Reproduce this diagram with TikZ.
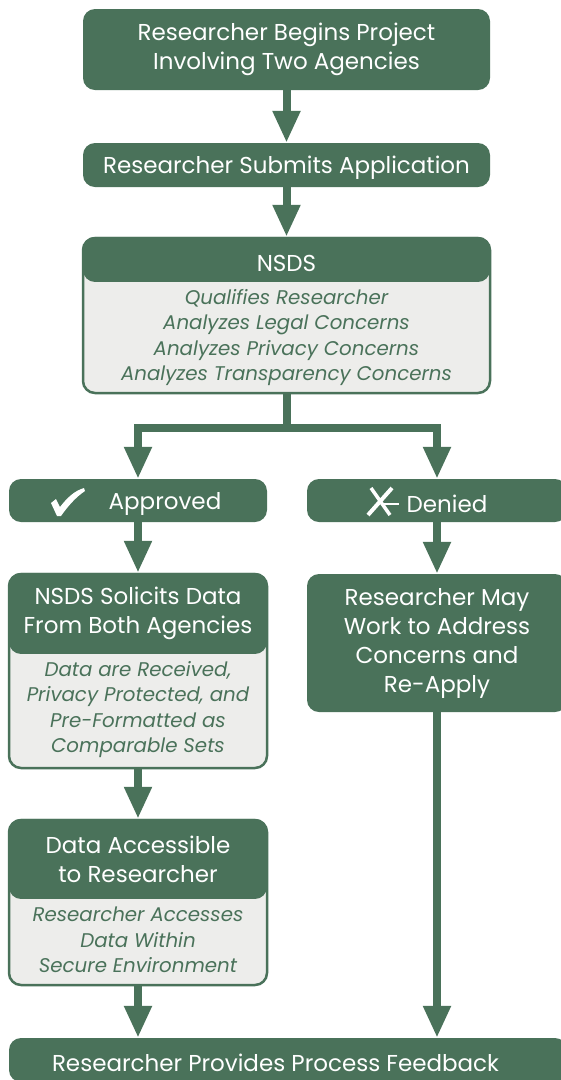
\documentclass[tikz,border=0pt]{standalone}
\usepackage{fontspec}
\setmainfont{Poppins}
\usetikzlibrary{arrows.meta}
\definecolor{nsdsgreen}{RGB}{74, 114, 90}
\definecolor{notegray}{RGB}{237, 237, 235}

\begin{document}
\begin{tikzpicture}[x=1pt, y=-1pt,
  box/.style={fill=nsdsgreen, text=white, rounded corners=12pt, align=center,
    inner sep=0pt, font=\fontsize{23}{29}\selectfont,
    execute at begin node={\rule{0pt}{23.5pt}}},
  frame/.style={draw=nsdsgreen, fill=notegray, line width=2.5pt, rounded corners=12pt,
    inner sep=0pt},
  notes/.style={text=nsdsgreen, align=center, inner sep=0pt,
    font=\fontsize{19.8}{25.5}\selectfont\itshape},
  flow/.style={draw=nsdsgreen, line width=8pt, -{Triangle[width=26pt, length=32pt]}}]

  \useasboundingbox (0, 0) rectangle (561, 1080);
  \begin{scope}
    \clip (0, 0) rectangle (561, 1080);

    % top of the process
    \node[box, minimum width=407pt, minimum height=81pt] (begins) at (286.5, 49.5)
      {Researcher Begins Project\\Involving Two Agencies};
    \node[box, minimum width=407pt, minimum height=44pt] (submits) at (286.5, 165)
      {Researcher Submits Application};

    \node[frame, minimum width=407pt, minimum height=155pt] (nsds) at (286.5, 315.5) {};
    \node[box, minimum width=407pt, minimum height=45pt, anchor=north] (nsdshead)
      at (nsds.north) {NSDS};
    \node[notes] (nsdsnotes) at (286.5, 337.5)
      {Qualifies Researcher\\Analyzes Legal Concerns\\Analyzes Privacy Concerns\\Analyzes Transparency Concerns};

    \draw[flow] (begins.south) -- (submits.north);
    \draw[flow] (submits.south) -- (nsds.north);

    % decision
    \node[box, minimum width=258pt, minimum height=43pt] (approved) at (138, 500.5)
      {\hspace*{54pt}Approved};
    \fill[white] (51, 503) -- (56, 499) -- (60, 507)
      .. controls (67, 498) and (74, 491) .. (84, 488) -- (85, 491)
      .. controls (76, 497) and (68, 506) .. (61, 516) -- (57, 516) -- cycle;
    \node[box, minimum width=260pt, minimum height=43pt] (denied) at (437, 500.5)
      {\hspace*{20pt}Denied};
    \draw[white, line width=4pt] (368, 515) -- (392, 488);
    \draw[white, line width=3.5pt] (371, 488) -- (390, 515);
    \draw[white, line width=1.8pt] (383, 504) -- (399, 504);

    \coordinate (split) at (286.5, 428);
    \draw[nsdsgreen, line width=8pt] (nsds.south) -- (split);
    \draw[flow] (split) -| (approved.north);
    \draw[flow] (split) -| (denied.north);

    % approved branch
    \node[frame, minimum width=258pt, minimum height=194pt] (solicits) at (138, 671) {};
    \node[box, minimum width=258pt, minimum height=81pt, anchor=north] (solicitshead)
      at (solicits.north) {NSDS Solicits Data\\From Both Agencies};
    \node[notes] (solicitsnotes) at (138, 709.5)
      {Data are Received,\\Privacy Protected, and\\Pre-Formatted as\\Comparable Sets};

    \node[frame, minimum width=258pt, minimum height=165pt] (access) at (138, 902.5) {};
    \node[box, minimum width=258pt, minimum height=80pt, anchor=north] (accesshead)
      at (access.north) {Data Accessible\\to Researcher};
    \node[notes] (accessnotes) at (138, 940)
      {Researcher Accesses\\Data Within\\Secure Environment};

    \draw[flow] (approved.south) -- (solicits.north);
    \draw[flow] (solicits.south) -- (access.north);

    % denied branch
    \node[box, minimum width=260pt, minimum height=138pt] (maywork) at (437, 643)
      {Researcher May\\Work to Address\\Concerns and\\Re-Apply};
    \draw[flow] (denied.south) -- (maywork.north);

    % end of the process
    \node[box, minimum width=558pt, minimum height=44pt] (feedback) at (288, 1060)
      {Researcher Provides Process Feedback\hspace*{25pt}};
    \draw[flow] (access.south) -- (access.south |- feedback.north);
    \draw[flow] (maywork.south) -- (maywork.south |- feedback.north);
  \end{scope}
\end{tikzpicture}
\end{document}
